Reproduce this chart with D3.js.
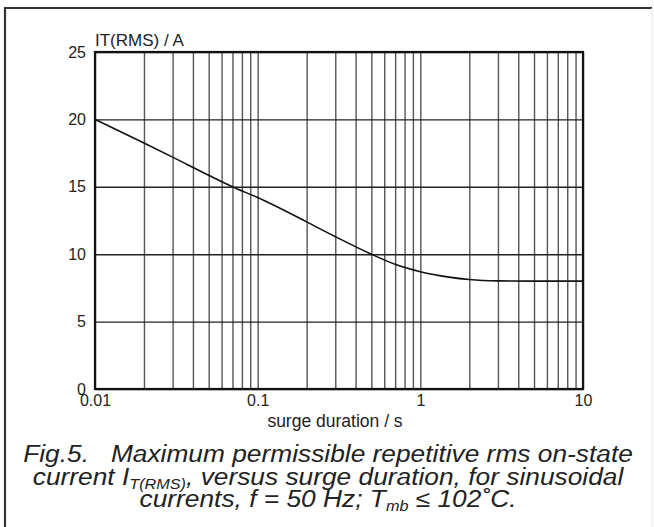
<!DOCTYPE html>
<html>
<head>
<meta charset="utf-8">
<script src="https://cdn.jsdelivr.net/npm/d3@7"></script>
<style>
  body { margin: 0; background: #fff; }
  text { font-family: "Liberation Sans", Arial, sans-serif; fill: #222; }
  .grid-v line { stroke: #555; stroke-width: 1.4; }
  .grid-h line { stroke: #222; stroke-width: 1.4; }
  .axis .domain { display: none; }
  .axis line { display: none; }
  .axis text { font-size: 16px; }
  .caption text { font-size: 23.5px; font-style: italic; }
</style>
</head>
<body>
<div id="chart"></div>
<script>
// curve
const duration = [0.01, 0.02, 0.03, 0.05, 0.07, 0.1, 0.2, 0.3, 0.5, 0.7, 1, 1.5, 2, 3, 5, 10];
const current = [20, 18.25, 17.2, 15.85, 15.0, 14.2, 12.4, 11.3, 10.0, 9.25, 8.7, 8.3, 8.12, 8.02, 8.0, 8.0];
const yTicks = [0, 5, 10, 15, 20, 25];
const xTicks = [0.01, 0.1, 1, 10];
const xTickLabels = ['0.01', '0.1', '1', '10'];

const W = 654, H = 527;
const margin = {top: 52, right: 71, bottom: 138, left: 95};
const width = W - margin.left - margin.right;
const height = H - margin.top - margin.bottom;

const svg = d3.select('#chart').append('svg')
    .attr('width', W)
    .attr('height', H);

// outer frame (left + top dark, right faint)
svg.append('line').attr('x1', 5).attr('y1', 8).attr('x2', 5).attr('y2', H)
    .attr('stroke', '#333').attr('stroke-width', 2.2);
svg.append('line').attr('x1', 4).attr('y1', 8).attr('x2', 652).attr('y2', 8)
    .attr('stroke', '#333').attr('stroke-width', 2.2);
svg.append('line').attr('x1', 652).attr('y1', 8).attr('x2', 652).attr('y2', H)
    .attr('stroke', '#e4e4e4').attr('stroke-width', 1);

const chart = svg.append('g')
    .attr('transform', `translate(${margin.left},${margin.top})`);

const x = d3.scaleLog().domain([0.01, 10]).range([0, width]);
const y = d3.scaleLinear().domain([0, 25]).range([height, 0]);

// gridlines
chart.append('g')
    .attr('class', 'grid-v')
    .attr('transform', `translate(0,${height})`)
    .call(d3.axisBottom(x).tickSize(-height).tickFormat(''))
    .call(g => g.select('.domain').remove());

chart.append('g')
    .attr('class', 'grid-h')
    .call(d3.axisLeft(y).tickValues(yTicks).tickSize(-width).tickFormat(''))
    .call(g => g.select('.domain').remove());

// plot frame
chart.append('rect')
    .attr('width', width)
    .attr('height', height)
    .attr('fill', 'none')
    .attr('stroke', '#111')
    .attr('stroke-width', 2.2);

// axes labels
chart.append('g')
    .attr('class', 'axis')
    .call(d3.axisLeft(y).tickValues(yTicks).tickSize(0).tickPadding(9));

chart.append('g')
    .attr('class', 'axis')
    .attr('transform', `translate(0,${height})`)
    .call(d3.axisBottom(x).tickValues(xTicks).tickSize(0).tickPadding(6)
        .tickFormat((d, i) => xTickLabels[i]));

// curve
const line = d3.line()
    .x((d, i) => x(d))
    .y((d, i) => y(current[i]))
    .curve(d3.curveMonotoneX);

chart.append('path')
    .datum(duration)
    .attr('fill', 'none')
    .attr('stroke', '#111')
    .attr('stroke-width', 1.6)
    .attr('d', line);

// axis titles
chart.append('text')
    .attr('x', 0)
    .attr('y', -6)
    .style('font-size', '17px')
    .text('IT(RMS) / A');

chart.append('text')
    .attr('x', 240)
    .attr('y', height + 38)
    .attr('text-anchor', 'middle')
    .style('font-size', '17.5px')
    .text('surge duration / s');

// caption, glyphs a bit wider than plain Arial
const cap = svg.append('g')
    .attr('class', 'caption')
    .attr('transform', 'translate(328,0) scale(1.12,1)');

cap.append('text')
    .attr('x', 0).attr('y', 462)
    .attr('text-anchor', 'middle')
    .attr('xml:space', 'preserve')
    .text('Fig.5.   Maximum permissible repetitive rms on-state');

const l2 = cap.append('text')
    .attr('x', 0).attr('y', 485)
    .attr('text-anchor', 'middle');
l2.append('tspan').text('current I');
l2.append('tspan').attr('dy', 4).style('font-size', '14.5px').text('T(RMS)');
l2.append('tspan').attr('dy', -4).text(', versus surge duration, for sinusoidal');

const l3 = cap.append('text')
    .attr('x', 0).attr('y', 507)
    .attr('text-anchor', 'middle');
l3.append('tspan').text('currents, f = 50 Hz; T');
l3.append('tspan').attr('dy', 4).style('font-size', '14.5px').text('mb');
l3.append('tspan').attr('dy', -4).text(' \u2264 102\u02DAC.');
</script>
</body>
</html>
